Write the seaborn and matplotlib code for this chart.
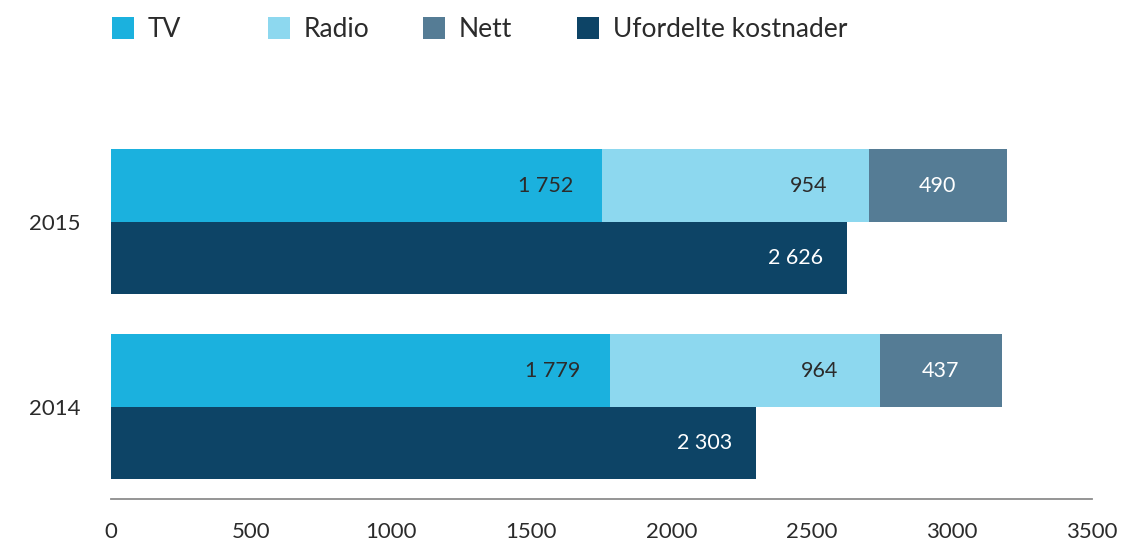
import pandas as pd
import matplotlib.pyplot as plt
import seaborn as sns
from matplotlib.patches import Patch

# Data (kroner, millions)
years = ['2015', '2014']
tv = [1752, 1779]
radio = [954, 964]
nett = [490, 437]
ufordelte = [2626, 2303]

series = ['TV', 'Radio', 'Nett', 'Ufordelte kostnader']
colors = ['#1bb1de', '#8dd8ef', '#557c95', '#0d4466']
xticks = [0, 500, 1000, 1500, 2000, 2500, 3000, 3500]

sns.set_style('white')
plt.rcParams['font.family'] = ['Lato', 'DejaVu Sans']

fig = plt.figure(figsize=(11.22, 5.44), dpi=100)
ax = fig.add_axes([0.099, 0.082, 0.874, 0.680])

rows = ['stablet', 'ufordelt']


def layer(stacked, single, col_stacked, col_single):
    d = pd.DataFrame({
        'year': years * 2,
        'rad': [rows[0]] * len(years) + [rows[1]] * len(years),
        'verdi': list(stacked) + list(single),
    })
    n = len(ax.containers)
    sns.barplot(data=d, x='verdi', y='year', hue='rad', order=years,
                hue_order=rows, palette={rows[0]: col_stacked, rows[1]: col_single},
                width=0.784, dodge=True, errorbar=None, saturation=1,
                linewidth=0, legend=False, ax=ax)
    return ax.containers[n:]


zeros = [0] * len(years)
total = [a + b + c for a, b, c in zip(tv, radio, nett)]
tv_radio = [a + b for a, b in zip(tv, radio)]

nett_c, uford_c = layer(total, ufordelte, colors[2], colors[3])
radio_c, _ = layer(tv_radio, zeros, colors[1], colors[3])
tv_c, _ = layer(tv, zeros, colors[0], colors[3])


def fmt(v):
    return f'{v:,}'.replace(',', ' ')


def label(bar, x, text, dx, ha, color):
    yc = bar.get_y() + bar.get_height() / 2
    ax.annotate(text, xy=(x, yc), xytext=(dx, 0), textcoords='offset points',
                ha=ha, va='center', fontsize=15.5, color=color)


for bar, v in zip(tv_c, tv):
    label(bar, bar.get_width(), fmt(v), -21, 'right', '#2b2b2b')
for bar, v in zip(radio_c, radio):
    label(bar, bar.get_width(), fmt(v), -30, 'right', '#2b2b2b')
for bar, v, s in zip(nett_c, nett, tv_radio):
    label(bar, s + v / 2, fmt(v), 0, 'center', 'white')
for bar, v in zip(uford_c, ufordelte):
    label(bar, bar.get_width(), fmt(v), -17, 'right', 'white')

ax.set_xlim(0, 3500)
ax.set_xticks(xticks)
ax.set_xticklabels([str(t) for t in xticks], fontsize=16, color='#2b2b2b')
ax.set_yticks(range(len(years)))
ax.set_yticklabels(years, fontsize=16, color='#2b2b2b')
ax.tick_params(axis='x', length=0, pad=16)
ax.tick_params(axis='y', length=0, pad=22)
ax.set_xlabel('')
ax.set_ylabel('')
for side in ['top', 'right', 'left']:
    ax.spines[side].set_visible(False)
ax.spines['bottom'].set_color('#8c8c8c')
ax.spines['bottom'].set_linewidth(1.3)

# legend entries sit in fixed-width columns
legend_x = [112, 268, 423, 577]
for name, col, x in zip(series, colors, legend_x):
    fig.legend(handles=[Patch(facecolor=col, edgecolor='none')], labels=[name],
               loc='upper left', bbox_to_anchor=(x / 1122, 1 - 17 / 544),
               frameon=False, fontsize=19, handlelength=0.85, handleheight=0.9,
               handletextpad=0.5, borderpad=0, borderaxespad=0,
               labelcolor='#2b2b2b')

fig.savefig('out.png', dpi=100)
